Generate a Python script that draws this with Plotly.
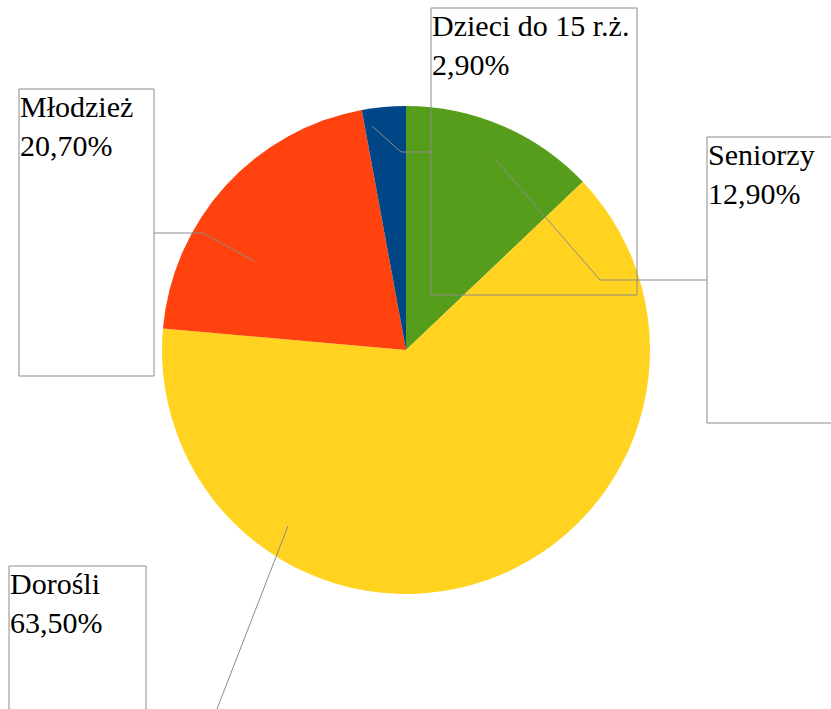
import plotly.graph_objects as go

# Data (clockwise from 12 o'clock)
categories = ["Seniorzy", "Dorośli", "Młodzież", "Dzieci do 15 r.ż."]
shares = [12.9, 63.5, 20.7, 2.9]
colors = ["#579d1c", "#ffd320", "#ff420e", "#004586"]
value_labels = ["12,90%", "63,50%", "20,70%", "2,90%"]

W, H = 831, 709

def px(x):
    return x / W

def py(y):
    return 1 - y / H

# layout for label boxes (pixels): left, top, right, bottom
boxes = {
    "Dzieci do 15 r.ż.": (431, 8, 637, 295),
    "Młodzież": (19, 89, 154, 376),
    "Dorośli": (9, 566, 146, 760),
    "Seniorzy": (707, 137, 900, 423),
}
# leader lines (pixels)
leaders = {
    "Dzieci do 15 r.ż.": [(372, 126), (401, 152), (431, 152)],
    "Młodzież": [(254, 261), (203, 233), (154, 233)],
    "Dorośli": [(288, 526), (217, 709)],
    "Seniorzy": [(495, 159), (600, 280), (707, 280)],
}

cx, cy, r = 406, 350, 244

fig = go.Figure(go.Pie(
    labels=categories,
    values=shares,
    marker=dict(colors=colors, line=dict(width=0)),
    sort=False,
    direction="clockwise",
    rotation=0,
    textinfo="none",
    hoverinfo="label+percent",
    showlegend=False,
    domain=dict(x=[px(cx - r), px(cx + r)], y=[py(cy + r), py(cy - r)]),
))

shapes = []
annotations = []
line_color = "#8c8c8c"
for cat, val in zip(categories, value_labels):
    l, t, rr, b = boxes[cat]
    shapes.append(dict(type="rect", xref="paper", yref="paper",
                       x0=px(l), x1=px(rr), y0=py(b), y1=py(t),
                       line=dict(color=line_color, width=1), layer="above"))
    pts = leaders[cat]
    for (x0, y0), (x1, y1) in zip(pts[:-1], pts[1:]):
        shapes.append(dict(type="line", xref="paper", yref="paper",
                           x0=px(x0), y0=py(y0), x1=px(x1), y1=py(y1),
                           line=dict(color=line_color, width=1), layer="above"))
    annotations.append(dict(
        text=f"{cat}<br>{val}", xref="paper", yref="paper",
        x=px(l), y=py(t), xanchor="left", yanchor="top",
        align="left", showarrow=False, borderpad=0,
        font=dict(family="'Liberation Serif', 'Times New Roman', 'DejaVu Serif', serif",
                  size=30, color="black"),
    ))

fig.update_layout(
    width=W, height=H,
    margin=dict(l=0, r=0, t=0, b=0),
    paper_bgcolor="white",
    plot_bgcolor="white",
    shapes=shapes,
    annotations=annotations,
)

fig.write_html("out.html", config={"displayModeBar": False},
               post_script="document.body.style.margin='0';document.body.style.padding='0';")
